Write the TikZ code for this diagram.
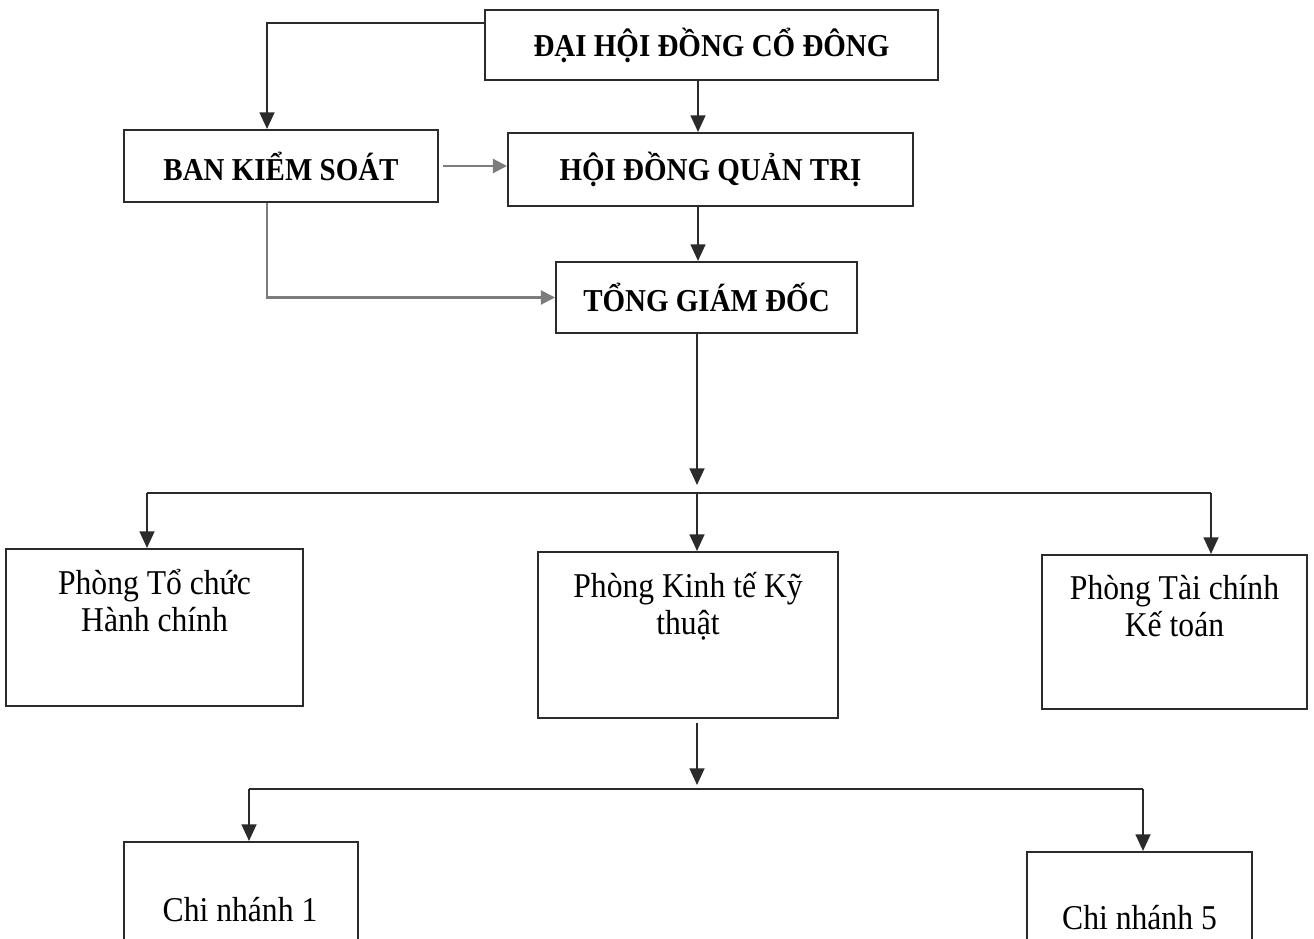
\documentclass[tikz,border=0pt]{standalone}
\usepackage{fontspec}
\setmainfont{Liberation Serif}
\usetikzlibrary{arrows.meta,calc,positioning}
\definecolor{orgink}{HTML}{2B2B2B}
\definecolor{orggrey}{HTML}{7C7C7C}
\newcommand\tallline[1]{\scalebox{1}[1.1]{#1}}

\begin{document}
\begin{tikzpicture}[x=0.02cm,y=-0.02cm,line join=miter,
  link/.style={orgink,line width=1.1pt},
  arr/.style={link,-{Triangle[length=9.5pt,width=8.5pt]}},
  grr/.style={orggrey,line width=1.2pt,-{Triangle[length=8pt,width=8pt]}},
  head/.style={draw=orgink,line width=1.2pt,inner sep=0pt,
    font=\fontsize{16.5}{19}\selectfont\bfseries},
  dept/.style={draw=orgink,line width=1.2pt,inner sep=0pt},
  depttext/.style={anchor=north,align=center,inner sep=0pt,
    font=\fontsize{18}{21}\selectfont}]
\path[use as bounding box] (0,0) rectangle (1314,939);
\fill[white] (0,0) rectangle (1314,939);
\clip (0,0) rectangle (1314,939);

% cấp lãnh đạo
\node[head,minimum width=9.06cm,minimum height=1.4cm] (dhdcd) at (711.5,45) {\tallline{ĐẠI HỘI ĐỒNG CỔ ĐÔNG}};
\node[head,minimum width=6.28cm,minimum height=1.44cm] (bks) at (281,166) {\tallline{BAN KIỂM SOÁT}};
\node[head,minimum width=8.1cm,minimum height=1.46cm] (hdqt) at (710.5,169.5) {\tallline{HỘI ĐỒNG QUẢN TRỊ}};
\node[head,minimum width=6.02cm,minimum height=1.42cm] (tgd) at (706.5,297.5) {\tallline{TỔNG GIÁM ĐỐC}};

% các phòng ban
\node[dept,minimum width=5.94cm,minimum height=3.14cm] (tchc) at (154.5,627.5) {};
\node[dept,minimum width=6cm,minimum height=3.32cm] (kykt) at (688,635) {};
\node[dept,minimum width=5.3cm,minimum height=3.08cm] (tckt) at (1174.5,632) {};
\node[depttext] (tchctext) at ([yshift=-0.42cm]tchc.north) {\tallline{Phòng Tổ chức}\\\tallline{Hành chính}};
\node[depttext] (kykttext) at ([yshift=-0.42cm]kykt.north) {\tallline{Phòng Kinh tế Kỹ}\\\tallline{thuật}};
\node[depttext] (tckttext) at ([yshift=-0.42cm]tckt.north) {\tallline{Phòng Tài chính}\\\tallline{Kế toán}};

% chi nhánh
\node[dept,minimum width=4.68cm,minimum height=2.96cm] (cn1) at (241,916) {};
\node[dept,minimum width=4.5cm,minimum height=2.96cm] (cn5) at (1139.5,926) {};
\node[depttext,anchor=center] (cn1text) at (240,910) {\tallline{Chi nhánh 1}};
\node[depttext,anchor=center] (cn5text) at (1139.5,918) {\tallline{Chi nhánh 5}};

% đường nối
\coordinate (bus1) at (697,493);
\coordinate (bus1l) at (147,493);
\coordinate (bus1r) at (1211,493);
\coordinate (bus2l) at (249,789);
\coordinate (bus2r) at (1143,789);
\coordinate (bus2) at (697,789);

\draw[arr] ([yshift=-0.28cm]dhdcd.north west) -| ([xshift=-0.28cm]bks.north);
\draw[arr] ([xshift=-0.27cm]dhdcd.south) -- ([xshift=-0.27cm]dhdcd.south |- hdqt.north);
\draw[grr] ([xshift=0.08cm]bks.east) -- (hdqt.west |- bks.east);
\draw[arr] ([xshift=-0.25cm]hdqt.south) -- ([xshift=-0.25cm]hdqt.south |- tgd.north);
\draw[grr] ([xshift=-0.28cm]bks.south) |- (tgd.west);
\draw[arr] ([xshift=-0.19cm]tgd.south) -- ([yshift=0.16cm]bus1);
\draw[link] (bus1l) -- (bus1r);
\draw[arr] (bus1l) -- (bus1l |- tchc.north);
\draw[arr] (bus1) -- (bus1 |- kykt.north);
\draw[arr] (bus1r) -- (bus1r |- tckt.north);
\draw[arr] ([xshift=0.18cm,yshift=-0.08cm]kykt.south) -- ([yshift=0.08cm]bus2);
\draw[link] (bus2l) -- (bus2r);
\draw[arr] (bus2l) -- (bus2l |- cn1.north);
\draw[arr] (bus2r) -- (bus2r |- cn5.north);
\end{tikzpicture}
\end{document}
